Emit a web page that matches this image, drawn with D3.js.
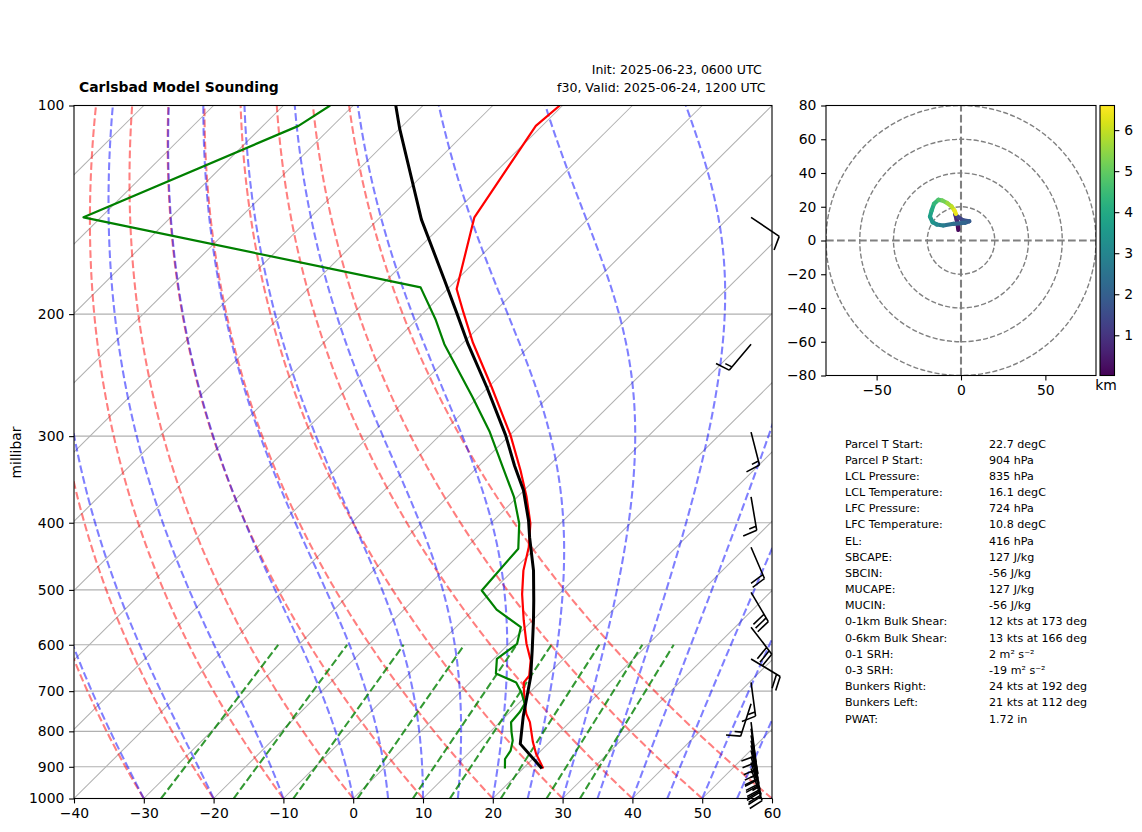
<!DOCTYPE html>
<html>
<head>
<meta charset="utf-8">
<script src="https://cdn.jsdelivr.net/npm/d3@7"></script>
<style>
html,body{margin:0;padding:0;background:#fff}
svg{display:block}
text{font-family:"DejaVu Sans",sans-serif;fill:#000}
</style>
</head>
<body>
<svg id="c" width="1142" height="832"></svg>
<script>
// ---- sounding data (hPa, degC) ----
const tempP = [905,862,829,776,755,730,691,680,665,632,598,553,507,469,434,401,367,336,299,255,220,198,184,145,107,100];
const tempT = [22.9,19.75,17.6,14.3,12.6,10.9,8.4,7.7,7.5,5.5,2.5,-1.3,-5.3,-8.5,-11.1,-14.3,-18.7,-23.4,-29.9,-39.5,-48.6,-54.6,-58.7,-66.5,-70.9,-70.4];
const dewP = [905,877,853,825,802,776,751,730,703,680,660,629,598,566,534,501,436,401,367,333,296,264,221,204,183,145,107,100];
const dewT = [17.4,16.05,15.65,14.5,13.1,11.6,11.4,10.9,8.8,6.6,2.4,0.45,1.15,-0.7,-6.7,-11.6,-12.4,-15.9,-20.5,-26.3,-33.3,-40.7,-52.5,-57.2,-64.1,-122.5,-104.9,-103.3];
const parcelP = [905,834,763,668,611,553,518,469,420,397,359,331,299,255,221,200,179,146,108,100];
const parcelT = [22.7,16.05,12.6,7.9,4.25,0.1,-2.7,-7.05,-12.4,-15.0,-20.1,-24.9,-30.6,-40.2,-49.1,-55,-61.6,-73.8,-90,-93.9];
// ---- wind barbs (hPa, knots) ----
const barbP = [145,221,296,367,434,504,566,629,680,730,776,793,811,825,838,853,870,887,905];
const barbU = [-8.3,9.7,-3.7,-2.5,-7.9,-15.2,-18.3,-17.1,-2,4.6,-1.2,-1.5,-1.8,-3.1,-3.1,-4.7,-5.3,-7.5,-9.8];
const barbV = [5.6,11.5,14.5,14.8,18.4,25.8,23.8,10.3,14.9,14.3,9.9,9.9,9.8,14.7,14.7,19.4,19.3,23.9,28.4];
// ---- hodograph (km, knots) ----
const hodoH = [0.02,0.3,0.6,0.9,1.2,1.5,1.8,2.0,2.3,2.6,3.0,3.3,3.6,3.9,4.2,4.6,5.0,5.4,5.8,6.2,6.6];
const hodoU = [-1.6,-2.0,-2.6,-3.4,-1.6,1.4,4.9,2.4,-4.5,-10.5,-14.4,-16.8,-18.4,-17.4,-16,-13.4,-11,-8.1,-5.5,-3.9,-3];
const hodoV = [6.3,9.5,12.5,15.5,13.8,11.9,11.4,10.5,9.9,8.9,9.5,10.8,14.2,17.8,21.7,24.1,23.7,22.2,20.1,17.8,15.8];
// ---- background line families ----
const isobars = [100,200,300,400,500,600,700,800,900,1000];
const tempTicks = [-40,-30,-20,-10,0,10,20,30,40,50,60];
const isotherms = [-130,-120,-110,-100,-90,-80,-70,-60,-50,-40,-30,-20,-10,0,10,20,30,40,50,60];
const dryT0 = [-30,-20,-10,0,10,20,30,40,50,60];
const moistT0 = [-30,-20,-10,0,5,10,15,20,25,30,35,40,45,50,55,60];
const mixW = [0.0004,0.001,0.002,0.004,0.007,0.01,0.016,0.024,0.032];
// ---- text ----
const statLabels = ["Parcel T Start:","Parcel P Start:","LCL Pressure:","LCL Temperature:","LFC Pressure:","LFC Temperature:","EL:","SBCAPE:","SBCIN:","MUCAPE:","MUCIN:","0-1km Bulk Shear:","0-6km Bulk Shear:","0-1 SRH:","0-3 SRH:","Bunkers Right:","Bunkers Left:","PWAT:"];
const statValues = ["22.7 degC","904 hPa","835 hPa","16.1 degC","724 hPa","10.8 degC","416 hPa","127 J/kg","-56 J/kg","127 J/kg","-56 J/kg","12 kts at 173 deg","13 kts at 166 deg","2 m\u00B2 s\u207B\u00B2","-19 m\u00B2 s\u207B\u00B2","24 kts at 192 deg","21 kts at 112 deg","1.72 in"];
const hodoXTicks = [-50,0,50];
const hodoYTicks = [-80,-60,-40,-20,0,20,40,60,80];
const hodoRings = [20,40,60,80];
const cbarTicks = [1,2,3,4,5,6];

const svg = d3.select("#c");
const fmt = v => String(v).replace("-", "\u2212");
const FS = 13.9;

// --------- Skew-T panel ----------
const L=74,R=772,T=105.5,B=798.5;
const x = d3.scaleLinear().domain([-40,60]).range([L,R]);
const y = d3.scaleLog().domain([1000,100]).range([B,T]);
const skew = (R-L)/(B-T);
const sx = (t,p) => x(t) + (B-y(p))*skew;
const skewLine = d3.line().x(d=>sx(d[0],d[1])).y(d=>y(d[1]));

const defs = svg.append("defs");
defs.append("clipPath").attr("id","skewclip").append("rect").attr("x",L).attr("y",T).attr("width",R-L).attr("height",B-T);
const pl = svg.append("g").attr("clip-path","url(#skewclip)");

pl.selectAll(".iso").data(isobars).join("line")
  .attr("x1",L).attr("x2",R).attr("y1",d=>y(d)).attr("y2",d=>y(d))
  .attr("stroke","#b0b0b0").attr("stroke-width",1.1);
pl.selectAll(".it").data(isotherms).join("path")
  .attr("d",t=>skewLine([[t,1000],[t,100]])).attr("fill","none")
  .attr("stroke","#b0b0b0").attr("stroke-width",1.05);

const pGrid = d3.range(0,91).map(i=>1000*Math.pow(10,-i/90));
const kappa = 0.2857;
const dash = "7.7,3.3";
pl.selectAll(".dry").data(dryT0).join("path")
  .attr("d",t0=>skewLine(pGrid.map(p=>[(t0+273.15)*Math.pow(p/1000,kappa)-273.15,p])))
  .attr("fill","none").attr("stroke","#ff0000").attr("stroke-opacity",0.5).attr("stroke-width",2.08).attr("stroke-dasharray",dash);

function rs(tK,p){const tc=tK-273.15;const e=6.112*Math.exp(17.67*tc/(tc+243.5));return 0.62198*e/(p-e);}
function dTdp(tK,p){const Rd=287.05,Cp=1005,Lv=2.501e6,eps=0.62198;const r=rs(tK,p);
  return (Rd*tK+Lv*r)/(Cp+Lv*Lv*r*eps/(Rd*tK*tK))/p;}
function moist(t0){let t=t0+273.15;const out=[[t0,pGrid[0]]];
  for(let i=1;i<pGrid.length;i++){let p=pGrid[i-1],h=pGrid[i]-p;
    const k1=dTdp(t,p),k2=dTdp(t+h*k1/2,p+h/2),k3=dTdp(t+h*k2/2,p+h/2),k4=dTdp(t+h*k3,p+h);
    t+=h*(k1+2*k2+2*k3+k4)/6;out.push([t-273.15,pGrid[i]]);}
  return out;}
pl.selectAll(".moist").data(moistT0).join("path")
  .attr("d",t0=>skewLine(moist(t0)))
  .attr("fill","none").attr("stroke","#0000ff").attr("stroke-opacity",0.5).attr("stroke-width",2.08).attr("stroke-dasharray",dash);

function td(w,p){const e=w*p/(0.62198+w);const l=Math.log(e/6.112);return 243.5*l/(17.67-l);}
pl.selectAll(".mix").data(mixW).join("path")
  .attr("d",w=>skewLine([1000,600].map(p=>[td(w,p),p])))
  .attr("fill","none").attr("stroke","#008000").attr("stroke-opacity",0.8).attr("stroke-width",2.08).attr("stroke-dasharray",dash);

const prof=(P,Tv,c,w)=>pl.append("path").attr("d",skewLine(P.map((p,i)=>[Tv[i],p])))
  .attr("fill","none").attr("stroke",c).attr("stroke-width",w).attr("stroke-linejoin","round");
prof(tempP,tempT,"#ff0000",2.2);
prof(dewP,dewT,"#008000",2.2);
prof(parcelP,parcelT,"#000000",3);

// barbs
const barbX = L+0.97*(R-L), bl=34;
function barbPath(p,u,v){
  const s=Math.hypot(u,v), dx=-u/s, dy=v/s, px=-dy, py=dx;
  const b0=[barbX,y(p)], tip=[b0[0]+dx*bl,b0[1]+dy*bl];
  let n=Math.round(s/5)*5, fulls=Math.floor(n/10), half=(n%10)>=5;
  let d=`M${b0}L${tip}`, off=0;
  const H=bl*0.42, W=bl*0.2, sp=bl*0.125;
  for(let i=0;i<fulls;i++){
    const a=[tip[0]-dx*off,tip[1]-dy*off];
    d+=`M${a}L${a[0]+px*H+dx*W/2},${a[1]+py*H+dy*W/2}`; off+=sp;
  }
  if(half){const a=[tip[0]-dx*off,tip[1]-dy*off];
    d+=`M${a}L${a[0]+px*H/2+dx*W/4},${a[1]+py*H/2+dy*W/4}`;}
  return d;
}
svg.append("g").selectAll("path").data(barbP).join("path")
  .attr("d",(p,i)=>barbPath(p,barbU[i],barbV[i]))
  .attr("fill","none").attr("stroke","#000").attr("stroke-width",1.6);

const frame=(x0,y0,w,h)=>svg.append("rect").attr("x",x0).attr("y",y0).attr("width",w).attr("height",h)
  .attr("fill","none").attr("stroke","#000").attr("stroke-width",1.1);
frame(L,T,R-L,B-T);

function styleAxis(g){
  g.select(".domain").remove();
  g.selectAll(".tick line").attr("stroke","#000").attr("stroke-width",1.1);
  g.selectAll("text").attr("font-size",FS).attr("font-family","DejaVu Sans");
}
svg.append("g").attr("transform",`translate(0,${B})`)
  .call(d3.axisBottom(x).tickValues(tempTicks).tickSize(4.9).tickPadding(4.8).tickFormat(fmt)).call(styleAxis);
svg.append("g").attr("transform",`translate(${L},0)`)
  .call(d3.axisLeft(y).tickValues(isobars).tickSize(4.9).tickPadding(4.8).tickFormat(d=>String(d))).call(styleAxis);

svg.append("text").attr("transform","translate(21,452.5) rotate(-90)").attr("text-anchor","middle").attr("font-size",FS).text("millibar");
svg.append("text").attr("x",79).attr("y",92.3).attr("font-weight","bold").attr("font-size",FS).text("Carlsbad Model Sounding");
svg.append("text").attr("x",761.7).attr("y",74).attr("text-anchor","end").attr("font-size",12.55).text("Init: 2025-06-23, 0600 UTC");
svg.append("text").attr("x",765.5).attr("y",91.7).attr("text-anchor","end").attr("font-size",12.55).text("f30, Valid: 2025-06-24, 1200 UTC");

// --------- Hodograph ----------
const hL=826,hR=1096,hT=105.5,hB=375.5;
const hx=d3.scaleLinear().domain([-80,80]).range([hL,hR]);
const hy=d3.scaleLinear().domain([-80,80]).range([hB,hT]);
defs.append("clipPath").attr("id","hclip").append("rect").attr("x",hL).attr("y",hT).attr("width",hR-hL).attr("height",hB-hT);
const hg=svg.append("g").attr("clip-path","url(#hclip)");
hg.selectAll("circle").data(hodoRings).join("circle")
  .attr("cx",hx(0)).attr("cy",hy(0)).attr("r",d=>hx(d)-hx(0))
  .attr("fill","none").attr("stroke","#808080").attr("stroke-width",1.39).attr("stroke-dasharray","5.1,2.2");
hg.append("line").attr("x1",hx(-80)).attr("x2",hx(80)).attr("y1",hy(0)).attr("y2",hy(0))
  .attr("stroke","#808080").attr("stroke-width",2.08).attr("stroke-dasharray","7.7,3.3");
hg.append("line").attr("x1",hx(0)).attr("x2",hx(0)).attr("y1",hy(-80)).attr("y2",hy(80))
  .attr("stroke","#808080").attr("stroke-width",2.08).attr("stroke-dasharray","7.7,3.3");
const cnorm=d3.scaleLinear().domain([0.02,6.6]).range([0,1]);
const seg=d3.range(hodoH.length-1);
hg.selectAll(".seg").data(seg).join("line")
  .attr("x1",i=>hx(hodoU[i])).attr("y1",i=>hy(hodoV[i]))
  .attr("x2",i=>hx(hodoU[i+1])).attr("y2",i=>hy(hodoV[i+1]))
  .attr("stroke",i=>d3.interpolateViridis(cnorm((hodoH[i]+hodoH[i+1])/2)))
  .attr("stroke-width",4.2).attr("stroke-linecap","round");
frame(hL,hT,hR-hL,hB-hT);
svg.append("g").attr("transform",`translate(0,${hB})`)
  .call(d3.axisBottom(hx).tickValues(hodoXTicks).tickSize(4.9).tickPadding(4.8).tickFormat(fmt)).call(styleAxis);
svg.append("g").attr("transform",`translate(${hL},0)`)
  .call(d3.axisLeft(hy).tickValues(hodoYTicks).tickSize(4.9).tickPadding(4.8).tickFormat(fmt)).call(styleAxis);

// --------- Colour bar ----------
const cL=1100,cW=14.5;
const cy=d3.scaleLinear().domain([0.02,6.6]).range([375.5,105.5]);
const grad=defs.append("linearGradient").attr("id","vir").attr("x1",0).attr("x2",0).attr("y1",1).attr("y2",0);
d3.range(0,1.0001,1/32).forEach(f=>grad.append("stop").attr("offset",f).attr("stop-color",d3.interpolateViridis(f)));
svg.append("rect").attr("x",cL).attr("y",105.5).attr("width",cW).attr("height",270).attr("fill","url(#vir)").attr("stroke","#000").attr("stroke-width",1.1);
svg.append("g").attr("transform",`translate(${cL+cW},0)`)
  .call(d3.axisRight(cy).tickValues(cbarTicks).tickSize(4.9).tickPadding(4.8).tickFormat(d=>String(d))).call(styleAxis);
svg.append("text").attr("x",1106).attr("y",389.5).attr("text-anchor","middle").attr("font-size",FS).text("km");

// --------- Stats ----------
const statY=d3.scaleLinear().domain([0,statLabels.length-1]).range([443.5,718.5]);
const st=svg.append("g").attr("font-size",11.1);
st.selectAll(".l").data(statLabels).join("text").attr("x",845).attr("y",(d,i)=>statY(i)+4).attr("font-size",11.1).text(d=>d);
st.selectAll(".v").data(statValues).join("text").attr("x",989).attr("y",(d,i)=>statY(i)+4).attr("font-size",11.1).text(d=>d);
</script>
</body>
</html>
